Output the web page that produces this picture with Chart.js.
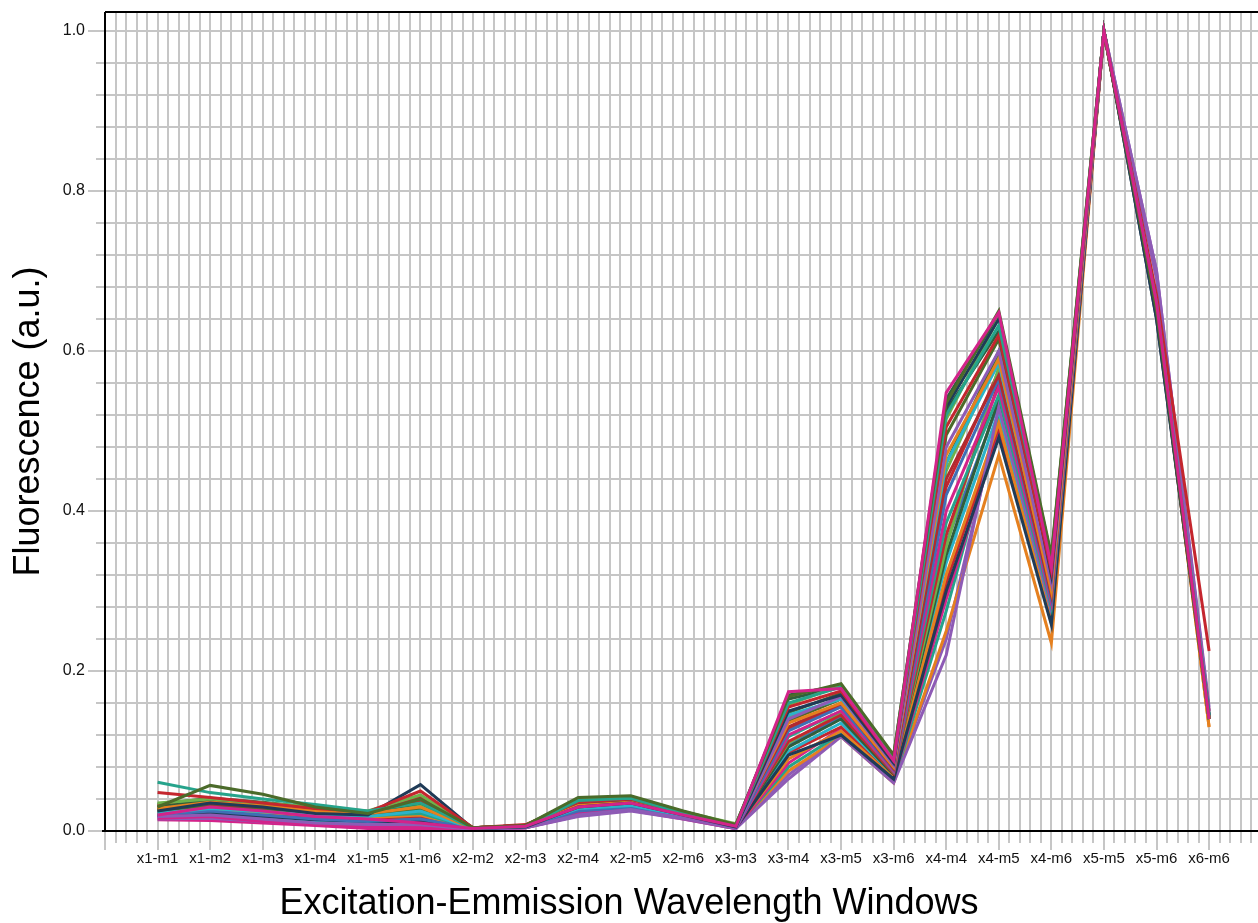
<!DOCTYPE html>
<html>
<head>
<meta charset="utf-8">
<title>Fluorescence by excitation-emission window</title>
<script src="https://cdn.jsdelivr.net/npm/chart.js@4.4.0/dist/chart.umd.min.js"></script>
<style>
  html, body { margin: 0; padding: 0; background: #fff; overflow: hidden; }
  #wrap { width: 1258px; height: 923px; }
</style>
</head>
<body>
<div id="wrap"><canvas id="chart"></canvas></div>
<script>
// ── data ──
const windows = ['x1-m1','x1-m2','x1-m3','x1-m4','x1-m5','x1-m6','x2-m2','x2-m3','x2-m4','x2-m5','x2-m6',
                 'x3-m3','x3-m4','x3-m5','x3-m6','x4-m4','x4-m5','x4-m6','x5-m5','x5-m6','x6-m6'];

const s01 = [0.020,0.030,0.025,0.018,0.015,0.010,0.003,0.006,0.030,0.035,0.020,0.006,0.174,0.178,0.088,0.548,0.648,0.330,1.000,0.660,0.140];
const s02 = [0.030,0.057,0.046,0.030,0.022,0.040,0.004,0.007,0.042,0.044,0.025,0.008,0.168,0.184,0.095,0.535,0.650,0.345,1.000,0.650,0.140];
const s03 = [0.061,0.048,0.040,0.033,0.025,0.035,0.003,0.006,0.038,0.041,0.022,0.007,0.160,0.180,0.090,0.520,0.632,0.335,1.000,0.660,0.145];
const s04 = [0.048,0.042,0.035,0.028,0.024,0.050,0.004,0.008,0.036,0.040,0.023,0.008,0.155,0.175,0.088,0.505,0.620,0.325,0.998,0.670,0.225];
const s05 = [0.025,0.035,0.030,0.022,0.020,0.058,0.003,0.005,0.030,0.035,0.020,0.005,0.150,0.170,0.085,0.530,0.640,0.320,1.000,0.640,0.145];
const s06 = [0.035,0.040,0.035,0.030,0.025,0.045,0.004,0.007,0.040,0.043,0.024,0.009,0.158,0.182,0.092,0.515,0.642,0.340,1.000,0.655,0.140];
const s07 = [0.018,0.020,0.015,0.010,0.008,0.008,0.002,0.004,0.020,0.027,0.016,0.003,0.140,0.168,0.082,0.480,0.600,0.310,1.000,0.700,0.150];
const s08 = [0.028,0.036,0.032,0.025,0.022,0.030,0.003,0.006,0.032,0.036,0.021,0.006,0.135,0.160,0.080,0.470,0.590,0.300,0.998,0.650,0.140];
const s09 = [0.030,0.038,0.033,0.027,0.023,0.035,0.004,0.007,0.035,0.039,0.022,0.007,0.165,0.180,0.090,0.525,0.625,0.330,1.000,0.650,0.140];
const s10 = [0.022,0.028,0.024,0.020,0.018,0.025,0.003,0.006,0.028,0.032,0.019,0.005,0.145,0.165,0.084,0.460,0.585,0.305,1.000,0.660,0.145];
const s11 = [0.032,0.034,0.030,0.026,0.024,0.042,0.004,0.007,0.034,0.038,0.022,0.007,0.130,0.160,0.078,0.440,0.570,0.295,1.000,0.650,0.140];
const s12 = [0.020,0.025,0.020,0.015,0.012,0.015,0.003,0.005,0.025,0.030,0.018,0.004,0.125,0.155,0.077,0.420,0.565,0.290,0.998,0.660,0.140];
const s13 = [0.016,0.018,0.012,0.008,0.005,0.004,0.002,0.004,0.022,0.028,0.016,0.003,0.120,0.150,0.075,0.400,0.555,0.285,1.000,0.660,0.145];
const s14 = [0.026,0.032,0.028,0.022,0.020,0.028,0.003,0.006,0.033,0.037,0.021,0.006,0.148,0.172,0.086,0.495,0.615,0.318,1.000,0.655,0.140];
const s15 = [0.024,0.030,0.026,0.021,0.019,0.022,0.003,0.006,0.030,0.034,0.020,0.005,0.118,0.150,0.074,0.385,0.545,0.280,1.000,0.660,0.140];
const s16 = [0.028,0.033,0.029,0.024,0.021,0.038,0.004,0.007,0.033,0.037,0.021,0.006,0.112,0.145,0.072,0.370,0.560,0.288,1.000,0.650,0.150];
const s17 = [0.019,0.022,0.018,0.014,0.012,0.012,0.003,0.005,0.024,0.030,0.017,0.004,0.095,0.120,0.065,0.300,0.492,0.258,1.000,0.640,0.140];
const s18 = [0.034,0.039,0.034,0.028,0.024,0.032,0.004,0.007,0.037,0.041,0.023,0.008,0.110,0.148,0.074,0.355,0.580,0.300,1.000,0.655,0.140];
const s19 = [0.015,0.016,0.012,0.009,0.006,0.005,0.002,0.004,0.018,0.025,0.015,0.003,0.065,0.118,0.060,0.220,0.530,0.275,1.000,0.700,0.155];
const s20 = [0.022,0.027,0.023,0.019,0.017,0.020,0.003,0.005,0.027,0.031,0.018,0.005,0.090,0.125,0.066,0.320,0.510,0.260,1.000,0.650,0.130];
const s21 = [0.029,0.035,0.031,0.025,0.021,0.030,0.004,0.006,0.031,0.035,0.020,0.006,0.105,0.140,0.070,0.345,0.540,0.280,1.000,0.650,0.140];
const s22 = [0.017,0.020,0.016,0.012,0.010,0.010,0.003,0.005,0.022,0.028,0.016,0.004,0.100,0.135,0.070,0.335,0.525,0.272,1.000,0.660,0.140];
const s23 = [0.021,0.026,0.022,0.018,0.016,0.018,0.003,0.005,0.026,0.031,0.018,0.004,0.098,0.130,0.068,0.310,0.505,0.265,1.000,0.655,0.145];
const s24 = [0.023,0.029,0.025,0.020,0.018,0.024,0.003,0.006,0.029,0.033,0.019,0.005,0.108,0.142,0.071,0.360,0.535,0.278,1.000,0.660,0.140];
const s25 = [0.014,0.013,0.010,0.007,0.003,0.002,0.002,0.004,0.019,0.026,0.015,0.003,0.085,0.128,0.064,0.290,0.500,0.262,0.998,0.655,0.140];
const s26 = [0.027,0.034,0.030,0.024,0.020,0.026,0.003,0.006,0.036,0.040,0.022,0.007,0.138,0.165,0.082,0.460,0.600,0.312,1.000,0.650,0.140];
const s27 = [0.020,0.024,0.019,0.016,0.014,0.016,0.003,0.005,0.025,0.030,0.018,0.004,0.080,0.122,0.062,0.275,0.515,0.268,1.000,0.660,0.140];
const s28 = [0.025,0.031,0.027,0.021,0.019,0.026,0.003,0.006,0.031,0.035,0.020,0.005,0.128,0.158,0.078,0.430,0.575,0.298,1.000,0.655,0.140];
const s29 = [0.031,0.037,0.032,0.026,0.022,0.034,0.004,0.007,0.034,0.038,0.022,0.006,0.142,0.166,0.083,0.450,0.595,0.308,1.000,0.650,0.145];
const s30 = [0.024,0.028,0.024,0.019,0.017,0.021,0.003,0.005,0.028,0.032,0.019,0.005,0.075,0.118,0.060,0.250,0.470,0.235,1.000,0.650,0.130];
const s31 = [0.033,0.041,0.036,0.029,0.024,0.044,0.004,0.007,0.039,0.042,0.024,0.008,0.170,0.182,0.094,0.540,0.645,0.342,1.000,0.650,0.140];
const s32 = [0.018,0.021,0.017,0.013,0.011,0.011,0.003,0.005,0.021,0.027,0.016,0.004,0.070,0.120,0.061,0.240,0.520,0.270,1.000,0.690,0.150];

const series = [s01,s02,s03,s04,s05,s06,s07,s08,s09,s10,s11,s12,s13,s14,s15,s16,
                s17,s18,s19,s20,s21,s22,s23,s24,s25,s26,s27,s28,s29,s30,s31,s32];

// one colour per series (magenta, olive, teal, red, navy, green, purple, orange, ...)
const lineColors = ['#d3238a','#4b6b2a','#26a38b','#c4262e','#1f3b57','#6db24b','#8e5bb5','#e5801f',
                    '#2f5e3c','#2bb3c9','#b02a30','#3f6fb5','#d3238a','#4b6b2a','#26a38b','#c4262e',
                    '#1f3b57','#6db24b','#8e5bb5','#e5801f','#2f5e3c','#2bb3c9','#c4262e','#3f6fb5',
                    '#d3238a','#4b6b2a','#26a38b','#c4262e','#6db24b','#e5801f','#2f5e3c','#8e5bb5'];

// ── helpers ──
const near = (a, b) => Math.abs(a - b) < 1e-6;
const isWhole = v => near(v, Math.round(v));
const isFifth = v => near(v * 5, Math.round(v * 5));

const X_MIN = -1, X_MAX = 20.93, Y_MAX = 1.02375;
const TITLE_H = 36 * 1.05;

// gray tick marks outside the plot + black frame
const frameTicks = {
  id: 'frameTicks',
  afterDraw(chart) {
    const { ctx, chartArea: a, scales: { x, y } } = chart;
    ctx.save();
    ctx.strokeStyle = '#c6c6c6';
    ctx.lineWidth = 2;
    ctx.beginPath();
    x.ticks.forEach(t => {
      const px = Math.round(x.getPixelForValue(t.value));
      ctx.moveTo(px, a.bottom);
      ctx.lineTo(px, a.bottom + (isWhole(t.value) ? 19 : 12));
    });
    y.ticks.forEach(t => {
      const py = Math.round(y.getPixelForValue(t.value));
      ctx.moveTo(a.left - (isFifth(t.value) ? 17 : 9), py);
      ctx.lineTo(a.left, py);
    });
    ctx.stroke();

    ctx.strokeStyle = '#000';
    ctx.lineWidth = 2;
    ctx.beginPath();
    ctx.moveTo(a.left, a.top); ctx.lineTo(a.right, a.top);
    ctx.moveTo(a.left, a.top); ctx.lineTo(a.left, a.bottom);
    ctx.moveTo(a.left - 3, a.bottom); ctx.lineTo(a.right, a.bottom);
    ctx.stroke();
    ctx.restore();
  }
};

const datasets = series.map((vals, i) => ({
  label: 'sample ' + (i + 1),
  data: vals.map((v, k) => ({ x: k, y: v })),
  borderColor: lineColors[i],
  borderWidth: 3,
  pointRadius: 0,
  tension: 0,
  fill: false
}));

new Chart(document.getElementById('chart'), {
  type: 'line',
  data: { datasets },
  plugins: [frameTicks],
  options: {
    responsive: true,
    maintainAspectRatio: false,
    animation: false,
    layout: { padding: { top: 12, right: 0, left: 0, bottom: 0 } },
    plugins: {
      legend: { display: false },
      tooltip: { enabled: false },
      title: {
        display: true,
        position: 'bottom',
        text: 'Excitation-Emmission Wavelength Windows',
        color: '#000',
        font: { family: 'Liberation Sans', size: 36, weight: 'normal', lineHeight: 1.05 },
        padding: { top: 0, bottom: 0 }
      }
    },
    scales: {
      x: {
        type: 'linear',
        min: X_MIN,
        max: X_MAX,
        afterBuildTicks: s => {
          const t = [];
          for (let k = 0; k * 0.2 + X_MIN <= X_MAX + 1e-9; k++) t.push({ value: +(X_MIN + k * 0.2).toFixed(2) });
          s.ticks = t;
        },
        afterFit: s => {
          s.height = 923 - 831 - TITLE_H;
          s.paddingLeft = 0;
          s.paddingRight = 0;
        },
        grid: { color: '#c6c6c6', lineWidth: 2, drawTicks: false },
        border: { display: false },
        ticks: {
          autoSkip: false,
          maxRotation: 0,
          minRotation: 0,
          padding: 19,
          color: '#111',
          font: { family: 'Liberation Sans', size: 15 },
          callback: v => (isWhole(v) && v >= 0 && v < windows.length) ? windows[Math.round(v)] : ''
        }
      },
      y: {
        type: 'linear',
        min: 0,
        max: Y_MAX,
        afterBuildTicks: s => {
          const t = [];
          for (let k = 0; k * 0.04 <= Y_MAX + 1e-9; k++) t.push({ value: +(k * 0.04).toFixed(2) });
          s.ticks = t;
        },
        afterFit: s => {
          s.width = 105;
          s.paddingTop = 0;
          s.paddingBottom = 0;
        },
        grid: { color: '#c6c6c6', lineWidth: 2, drawTicks: false },
        border: { display: false },
        ticks: {
          autoSkip: false,
          padding: 20,
          color: '#111',
          font: { family: 'Liberation Sans', size: 16 },
          callback: v => isFifth(v) ? v.toFixed(1) : ''
        },
        title: {
          display: true,
          text: 'Fluorescence (a.u.)',
          color: '#000',
          font: { family: 'Liberation Sans', size: 36, weight: 'normal' },
          padding: { top: 7, bottom: 0 }
        }
      }
    }
  }
});
</script>
</body>
</html>
